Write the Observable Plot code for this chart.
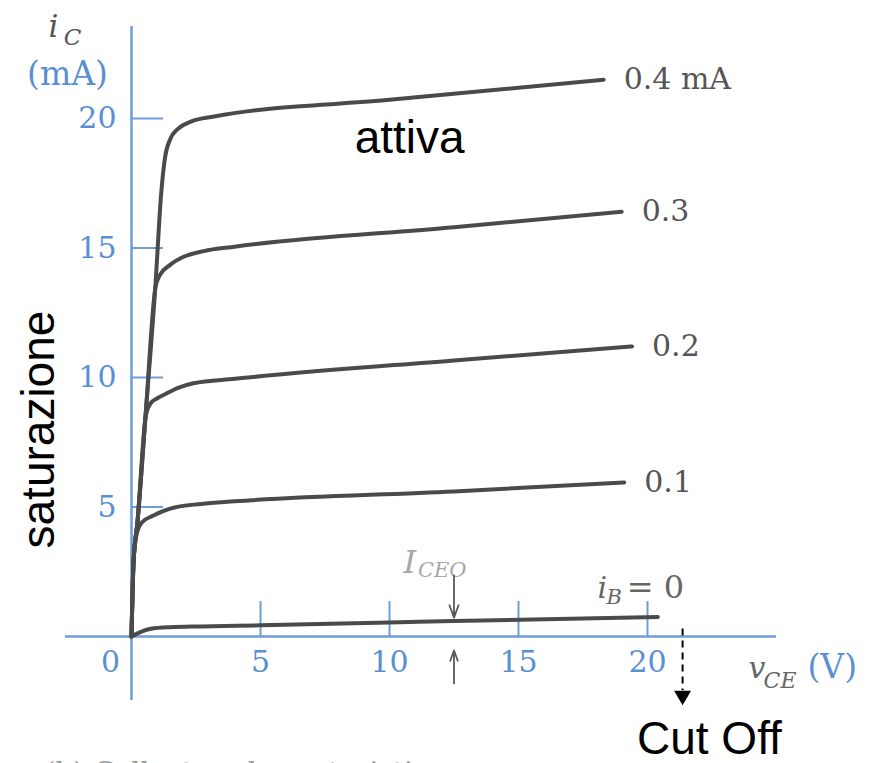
<!DOCTYPE html>
<html>
<head>
<meta charset="utf-8">
<script src="https://cdn.jsdelivr.net/npm/d3@7"></script>
<script src="https://cdn.jsdelivr.net/npm/@observablehq/plot@0.6"></script>
<style>
  html, body { margin: 0; padding: 0; background: #fff; }
  #chart { width: 873px; height: 763px; overflow: hidden; }
</style>
</head>
<body>
<div id="chart"></div>
<script>
// BJT collector characteristics: i_C (mA) against v_CE (V), one curve per base current.

// Base-current labels for each curve
const curveLabels = ["0.4 mA", "0.3", "0.2", "0.1"];

// i_B = 0.4 mA
const vce04 = [0, 0.08, 0.23, 0.55, 0.93, 1.15, 1.3, 1.5, 1.8, 2.3, 3.2, 10.0, 18.3];
const ic04  = [0, 2.9, 4.4, 8.6, 13.6, 17.1, 18.5, 19.2, 19.6, 19.88, 20.08, 20.72, 21.5];
// i_B = 0.3 mA
const vce03 = [0, 0.08, 0.23, 0.55, 0.93, 1.1, 1.5, 2.0, 2.8, 4.0, 12.5, 19.0];
const ic03  = [0, 2.9, 4.4, 8.6, 13.5, 13.95, 14.35, 14.65, 14.88, 15.05, 15.8, 16.4];
// i_B = 0.2 mA
const vce02 = [0, 0.08, 0.23, 0.55, 0.74, 1.0, 1.3, 1.8, 2.4, 4.0, 12.5, 19.4];
const ic02  = [0, 2.9, 4.4, 8.5, 9.0, 9.2, 9.35, 9.6, 9.78, 9.95, 10.66, 11.2];
// i_B = 0.1 mA
const vce01 = [0, 0.08, 0.2, 0.4, 0.85, 1.5, 2.7, 4.0, 12.5, 19.1];
const ic01  = [0, 2.9, 3.95, 4.4, 4.67, 4.94, 5.12, 5.22, 5.6, 5.95];
// i_B = 0 (leakage current I_CEO)
const vce00 = [0, 0.3, 0.75, 1.5, 2.7, 5.0, 10.0, 12.5, 20.4];
const ic00  = [0, 0.15, 0.3, 0.36, 0.39, 0.43, 0.54, 0.6, 0.75];

// Axis ticks
const xTicks = [0, 5, 10, 15, 20];
const yTicks = [5, 10, 15, 20];

// Value of v_CE where I_CEO is marked
const iceoAt = 12.5;

// ---- build tables ----
const seriesV = [vce04, vce03, vce02, vce01, vce00];
const seriesI = [ic04, ic03, ic02, ic01, ic00];
const seriesName = ["0.4", "0.3", "0.2", "0.1", "0"];
const rows = seriesV.flatMap((vs, k) => vs.map((v, j) => ({series: seriesName[k], v, i: seriesI[k][j]})));
const ends = curveLabels.map((label, k) => ({label, v: seriesV[k].at(-1), i: seriesI[k].at(-1)}));
const iceoLevel = ic00[vce00.indexOf(iceoAt)];

const blue = "#6b9edb";
const blueText = "#5a90d2";
const curveColor = "#4a4a4a";
const serif = "DejaVu Serif, Liberation Serif, serif";
const sans = "Liberation Sans, Arial, Helvetica, sans-serif";

// small helper for one-off labels
const label = (t, opts) => Plot.text([t], {text: d => d, textAnchor: "start", lineAnchor: "bottom",
  fontFamily: serif, ...opts});

const chart = Plot.plot({
  width: 873,
  height: 763,
  marginLeft: 131,
  marginRight: 226,
  marginTop: 118,
  marginBottom: 127,
  x: {domain: [0, 20], axis: null},
  y: {domain: [0, 20], axis: null},
  style: {background: "white", overflow: "hidden"},
  marks: [
    // axis lines, extending past the origin
    Plot.ruleX([0], {y1: -2.47, y2: 23.55, stroke: blue, strokeWidth: 2.5}),
    Plot.ruleY([0], {x1: -2.56, x2: 25.0, stroke: blue, strokeWidth: 2.5}),
    // inward ticks
    Plot.ruleY(yTicks, {x1: 0, x2: 1.24, stroke: blue, strokeWidth: 2}),
    Plot.ruleX(xTicks.filter(d => d > 0), {y1: 0, y2: 1.35, stroke: blue, strokeWidth: 2}),
    // tick labels
    Plot.text(yTicks, {x: 0, y: d => d, text: d => String(d), dx: -15, textAnchor: "end",
      fill: blueText, fontSize: 30, fontFamily: serif}),
    Plot.text(xTicks.filter(d => d > 0), {x: d => d, y: 0, text: d => String(d), dy: 26,
      fill: blueText, fontSize: 30, fontFamily: serif}),
    Plot.text(xTicks.filter(d => d === 0), {x: d => d, y: 0, text: d => String(d), dx: -21, dy: 26,
      fill: blueText, fontSize: 30, fontFamily: serif}),

    // characteristic curves
    Plot.line(rows, {x: "v", y: "i", z: "series", curve: "monotone-x",
      stroke: curveColor, strokeWidth: 4, strokeLinecap: "round", strokeLinejoin: "round"}),
    // base-current labels at curve ends
    Plot.text(ends, {x: "v", y: "i", text: "label", dx: 20, textAnchor: "start",
      fill: "#555", fontSize: 30, fontFamily: serif}),

    // i_B = 0 label
    label("i", {x: 18.06, y: 1.47, fill: "#666", fontSize: 30, fontStyle: "italic"}),
    label("B", {x: 18.41, y: 1.27, fill: "#666", fontSize: 21, fontStyle: "italic"}),
    label("= 0", {x: 19.2, y: 1.47, fill: "#666", fontSize: 32}),

    // I_CEO label and arrows
    label("I", {x: 10.54, y: 2.47, fill: "#a8a8a8", fontSize: 32, fontStyle: "italic"}),
    label("CEO", {x: 11.1, y: 2.28, fill: "#a8a8a8", fontSize: 21, fontStyle: "italic"}),
    Plot.arrow([iceoAt], {x1: d => d, x2: d => d, y1: 2.36, y2: iceoLevel + 0.13,
      stroke: "#5a5a5a", strokeWidth: 1.8, headLength: 11, headAngle: 40}),
    Plot.arrow([iceoAt], {x1: d => d, x2: d => d, y1: -1.81, y2: -0.54,
      stroke: "#5a5a5a", strokeWidth: 1.8, headLength: 11, headAngle: 40}),

    // axis titles
    label("i", {x: -3.22, y: 23.13, fill: "#555", fontSize: 31, fontStyle: "italic"}),
    label("C", {x: -2.63, y: 22.82, fill: "#555", fontSize: 23, fontStyle: "italic"}),
    label("(mA)", {x: -2.48, y: 21.31, textAnchor: "middle", fill: blueText, fontSize: 33}),
    label("v", {x: 23.91, y: -1.62, fill: "#666", fontSize: 30, fontStyle: "italic"}),
    label("CE", {x: 24.5, y: -2.0, fill: "#666", fontSize: 22, fontStyle: "italic"}),
    label("(V)", {x: 26.2, y: -1.62, fill: blueText, fontSize: 33}),

    // figure caption, running off the bottom edge
    label("(b) Collector characteristics", {x: -3.37, y: -5.6, fill: "#999", fontSize: 28}),

    // operating regions
    Plot.text(["attiva"], {x: 10.78, y: 18.65, text: d => d, textAnchor: "middle", lineAnchor: "bottom",
      fill: "#000", fontSize: 46, fontFamily: sans}),
    Plot.text(["saturazione"], {x: -3.02, y: 7.99, text: d => d, rotate: -90, textAnchor: "middle",
      lineAnchor: "bottom", fill: "#000", fontSize: 46, fontFamily: sans}),
    Plot.link([21.36], {x1: d => d, x2: d => d, y1: 0.31, y2: -2.08,
      stroke: "#000", strokeWidth: 2, strokeDasharray: "7,5"}),
    Plot.dot([21.36], {x: d => d, y: -2.28, symbol: "triangle", r: 6.3, rotate: 180,
      fill: "#000", stroke: "none"}),
    Plot.text(["Cut Off"], {x: 22.4, y: -4.53, text: d => d, textAnchor: "middle", lineAnchor: "bottom",
      fill: "#000", fontSize: 46, fontFamily: sans})
  ]
});

document.getElementById("chart").appendChild(chart);
</script>
</body>
</html>
